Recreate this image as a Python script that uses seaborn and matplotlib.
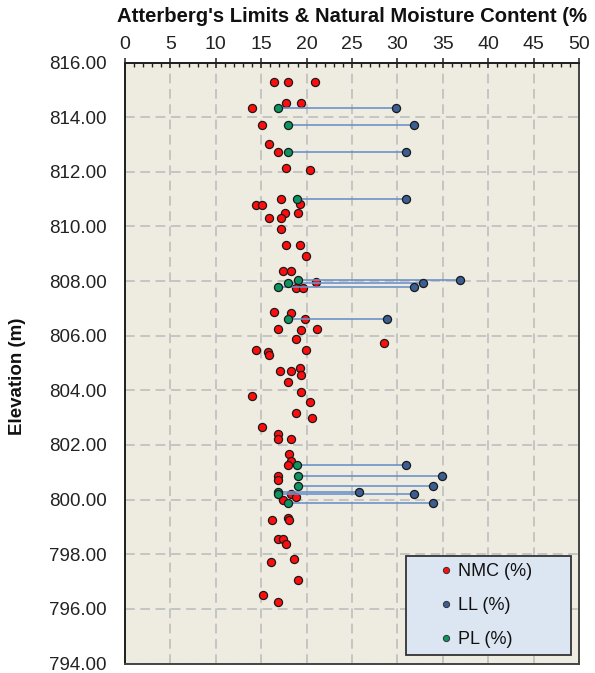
import numpy as np
import pandas as pd
import matplotlib
matplotlib.use("Agg")
import matplotlib.pyplot as plt
import seaborn as sns
from matplotlib.lines import Line2D
from matplotlib.patches import Rectangle
from matplotlib.ticker import MultipleLocator, FormatStrFormatter

# ---------------- data ----------------
nmc_elev = [815.30, 815.30, 815.30, 814.53, 814.53, 814.34, 813.71, 813.00, 812.72,
            812.14, 812.05, 811.00, 810.82, 810.77, 810.77, 810.50, 810.50, 810.32,
            810.32, 809.92, 809.32, 809.32, 808.92, 808.38, 808.38, 807.95, 807.75,
            807.75, 806.88, 806.83, 806.61, 806.25, 806.25, 806.20, 805.88, 805.72,
            805.48, 805.48, 805.40, 805.30, 804.81, 804.71, 804.71, 804.57, 804.31,
            803.95, 803.81, 803.58, 803.18, 803.00, 802.64, 802.41, 802.23, 802.23,
            801.68, 801.40, 801.28, 800.86, 800.72, 800.20, 800.10, 799.99, 799.34,
            799.25, 799.25, 798.57, 798.57, 798.38, 797.84, 797.71, 797.06, 796.52,
            796.26]
nmc_value = [16.4, 17.9, 20.9, 17.7, 19.4, 14.0, 15.1, 15.9, 16.8,
             17.7, 20.4, 17.2, 19.3, 14.4, 15.1, 17.6, 19.1, 15.9,
             17.2, 17.2, 17.7, 19.3, 19.9, 17.4, 18.3, 21.0, 18.8,
             19.6, 16.4, 18.3, 19.8, 16.8, 21.1, 19.4, 18.8, 28.5,
             14.4, 19.9, 15.7, 15.9, 19.3, 17.1, 18.3, 19.4, 17.9,
             19.4, 14.0, 20.4, 18.8, 20.6, 15.1, 16.9, 16.9, 18.3,
             18.1, 18.3, 17.9, 16.9, 16.8, 18.3, 18.8, 17.4, 17.9,
             16.2, 18.1, 16.9, 17.4, 17.7, 18.6, 16.1, 19.1, 15.2,
             16.8]

atl_elev = [814.34, 813.72, 812.72, 811.00, 808.03, 807.93, 807.79, 806.61,
            801.28, 800.86, 800.50, 800.29, 800.20, 799.87]
pl_value = [16.9, 17.9, 17.9, 18.9, 19.0, 17.9, 16.9, 17.9,
            18.9, 19.0, 19.0, 16.9, 16.9, 17.9]
ll_value = [29.8, 31.8, 30.9, 30.9, 36.9, 32.8, 31.8, 28.8,
            30.9, 34.9, 33.9, 25.8, 31.8, 33.9]

x_ticks = [0, 5, 10, 15, 20, 25, 30, 35, 40, 45, 50]
y_ticks = [794, 796, 798, 800, 802, 804, 806, 808, 810, 812, 814, 816]
series_labels = ["NMC (%)", "LL (%)", "PL (%)"]
series_colors = ["#ff0d0d", "#3b5e93", "#0e9460"]
title_text = "Atterberg's Limits & Natural Moisture Content (%"

# ---------------- styling ----------------
sns.set_style("white")
plt.rcParams["font.family"] = ["Liberation Sans", "DejaVu Sans"]
plt.rcParams["lines.scale_dashes"] = False

fig = plt.figure(figsize=(5.95, 6.73), dpi=100)
ax_left, ax_right, ax_top, ax_bottom = 125, 579, 62.5, 663.5
ax = fig.add_axes([ax_left / 595, 1 - ax_bottom / 673,
                   (ax_right - ax_left) / 595, (ax_bottom - ax_top) / 673])
ax.set_facecolor("#eeebe1")
aw = ax_right - ax_left
ah = ax_bottom - ax_top

nmc_df = pd.DataFrame({"elev": nmc_elev, "value": nmc_value})
atl_df = pd.DataFrame({"elev": atl_elev, "PL": pl_value, "LL": ll_value})

pt_kw = dict(s=34, edgecolor="#1a1a1a", linewidth=0.9, legend=False, ax=ax)
sns.scatterplot(data=nmc_df, x="value", y="elev", color=series_colors[0], zorder=3, **pt_kw)

for _, r in atl_df.iterrows():
    ax.plot([r["PL"], r["LL"]], [r["elev"], r["elev"]], color="#6b90c9",
            lw=1.3, alpha=0.9, zorder=4, solid_capstyle="butt")

sns.scatterplot(data=atl_df, x="LL", y="elev", color=series_colors[1], zorder=5, **pt_kw)
sns.scatterplot(data=atl_df, x="PL", y="elev", color=series_colors[2], zorder=5, **pt_kw)

ax.set_xlim(0, 50)
ax.set_ylim(794, 816)
ax.set_xticks(x_ticks)
ax.set_yticks(y_ticks)
ax.xaxis.set_minor_locator(MultipleLocator(1))
ax.yaxis.set_minor_locator(MultipleLocator(0.5))
ax.yaxis.set_major_formatter(FormatStrFormatter("%.2f"))
ax.xaxis.tick_top()
ax.xaxis.set_label_position("top")

ax.grid(True, which="major", color="#c4c4c4", linestyle=(0, (7, 4)), lw=1.4)
ax.set_axisbelow(True)

ax.tick_params(axis="x", which="major", direction="inout", length=7, width=1.1,
               labelsize=14, pad=3, colors="#222222", labelcolor="#222222")
ax.tick_params(axis="x", which="minor", direction="in", length=3, width=1.0, colors="#222222")
ax.tick_params(axis="y", which="major", direction="inout", length=10, width=1.1,
               labelsize=13.5, pad=8, colors="#222222", labelcolor="#222222")
ax.tick_params(axis="y", which="minor", direction="in", length=3.5, width=1.0, colors="#222222")

for side in ["top", "left"]:
    ax.spines[side].set_color("#1e1e1e")
    ax.spines[side].set_linewidth(1.4)
for side in ["right", "bottom"]:
    ax.spines[side].set_color("#444444")
    ax.spines[side].set_linewidth(1.4)

ax.set_xlabel("")
ax.set_ylabel("Elevation (m)", fontsize=13.5, fontweight="bold", color="#111111")
ax.yaxis.set_label_coords(-(ax_left - 26) / aw, (ax_bottom - 376) / ah)

fig.text(117 / 595, 1 - 17 / 673, title_text,
         fontsize=14.6, fontweight="bold", ha="left", va="center", color="#111111")

# legend box
bx0 = (406 - ax_left) / aw
bx1 = (571 - ax_left) / aw
by0 = (ax_bottom - 655) / ah
by1 = (ax_bottom - 556) / ah
ax.add_patch(Rectangle((bx0, by0), bx1 - bx0, by1 - by0, transform=ax.transAxes,
                       facecolor="#dce6f2", edgecolor="#333333", lw=1.3,
                       zorder=8, clip_on=False))
handles = [Line2D([], [], ls="", marker="o", markersize=4.5, markerfacecolor=c,
                  markeredgecolor="#333333", markeredgewidth=0.7) for c in series_colors]
leg = ax.legend(handles, series_labels, loc="center",
                bbox_to_anchor=((bx0 + bx1) / 2 - 0.004, (by0 + by1) / 2),
                bbox_transform=ax.transAxes, frameon=False, fontsize=13,
                labelspacing=0.95, handlelength=0.6, handletextpad=0.35,
                labelcolor="#111111")
leg.set_zorder(9)

fig.savefig("out.png", dpi=100)
